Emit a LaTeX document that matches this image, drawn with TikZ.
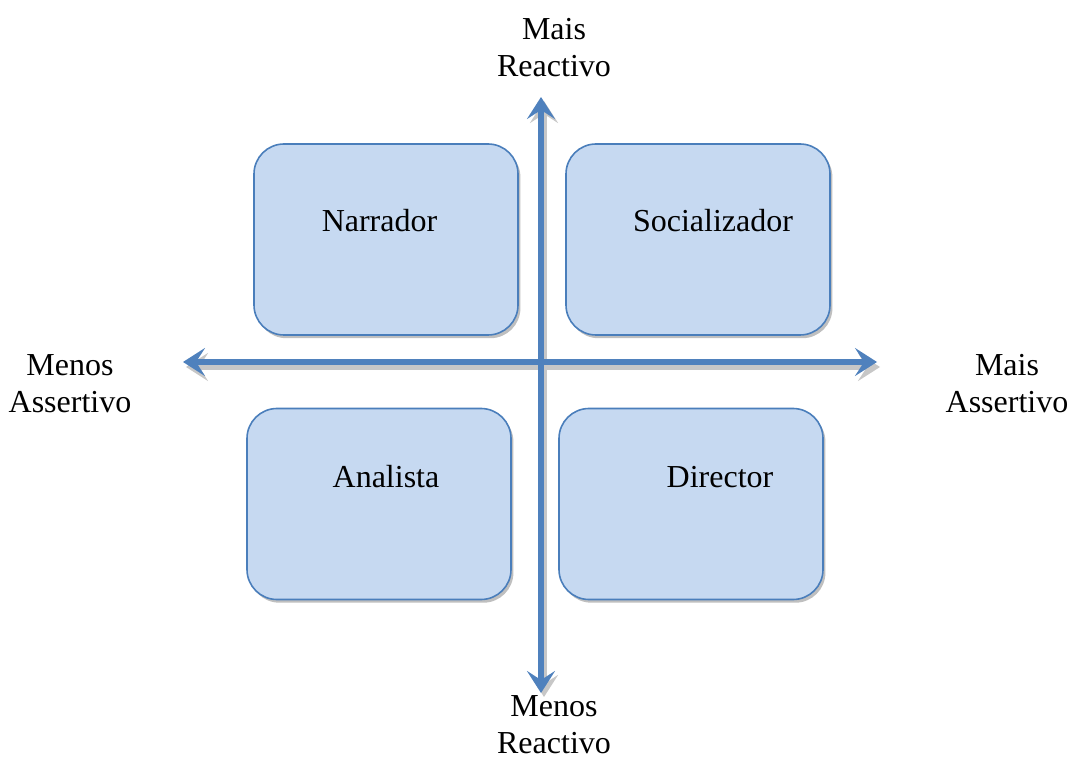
\documentclass[tikz,border=0pt]{standalone}
\usepackage{fontspec}
\setmainfont{Liberation Serif}
\usetikzlibrary{arrows.meta,shadows}
\definecolor{boxfill}{HTML}{C6D9F1}
\definecolor{boxline}{HTML}{4A7EBB}
\definecolor{axis}{HTML}{4F81BD}
\begin{document}
\begin{tikzpicture}[x=0.5pt,y=-0.5pt,
  quad/.style={draw=boxline, line width=0.8pt, fill=boxfill, rounded corners=15pt,
    minimum width=132pt, minimum height=95.5pt, inner sep=0pt,
    drop shadow={shadow xshift=1.2pt, shadow yshift=-1.6pt, fill=black, opacity=0.25}},
  qtext/.style={font=\fontsize{16}{19}\selectfont, anchor=base, inner sep=0pt},
  axlabel/.style={font=\fontsize{16}{18.5}\selectfont, align=center, inner sep=0pt},
  tip/.style={Stealth[length=11pt,width=14pt,inset=4.5pt]},
  axisline/.style={draw=axis, line width=2.6pt, {Stealth[length=11pt,width=14pt,inset=4.5pt]}-{Stealth[length=11pt,width=14pt,inset=4.5pt]}},
  axisshadow/.style={draw=black!22, line width=2.6pt, {Stealth[length=11pt,width=14pt,inset=4.5pt]}-{Stealth[length=11pt,width=14pt,inset=4.5pt]}}
]
\useasboundingbox (0,0) rectangle (1069,758);
% boxes
\node[quad] (nar) at (386,239.5) {};
\node[quad] (soc) at (698,239.5) {};
\node[quad] (ana) at (379,504) {};
\node[quad] (dir) at (691,504) {};
% box texts
\node[qtext] (tnar) at (379.5,232) {Narrador};
\node[qtext] (tsoc) at (713,232) {Socializador};
\node[qtext] (tana) at (386,487) {Analista};
\node[qtext] (tdir) at (720,487) {Director};
% axis end points
\coordinate (L) at (183,362);
\coordinate (R) at (877,362);
\coordinate (T) at (541,97);
\coordinate (B) at (541,693);
\coordinate (Ls) at (186,367);
\coordinate (Rs) at (880,367);
\coordinate (Ts) at (544,101);
\coordinate (Bs) at (544,697);
% shadows of axes
\draw[axisshadow] (Ls) -- (Rs);
\draw[axisshadow] (Ts) -- (Bs);
% axes
\draw[axisline] (L) -- (R);
\draw[axisline] (T) -- (B);
% axis labels
\node[axlabel] (top) at (554,48) {Mais\\Reactivo};
\node[axlabel] (bot) at (554,725) {Menos\\Reactivo};
\node[axlabel] (lft) at (70,384) {Menos\\Assertivo};
\node[axlabel] (rgt) at (1007,384) {Mais\\Assertivo};
\end{tikzpicture}
\end{document}
